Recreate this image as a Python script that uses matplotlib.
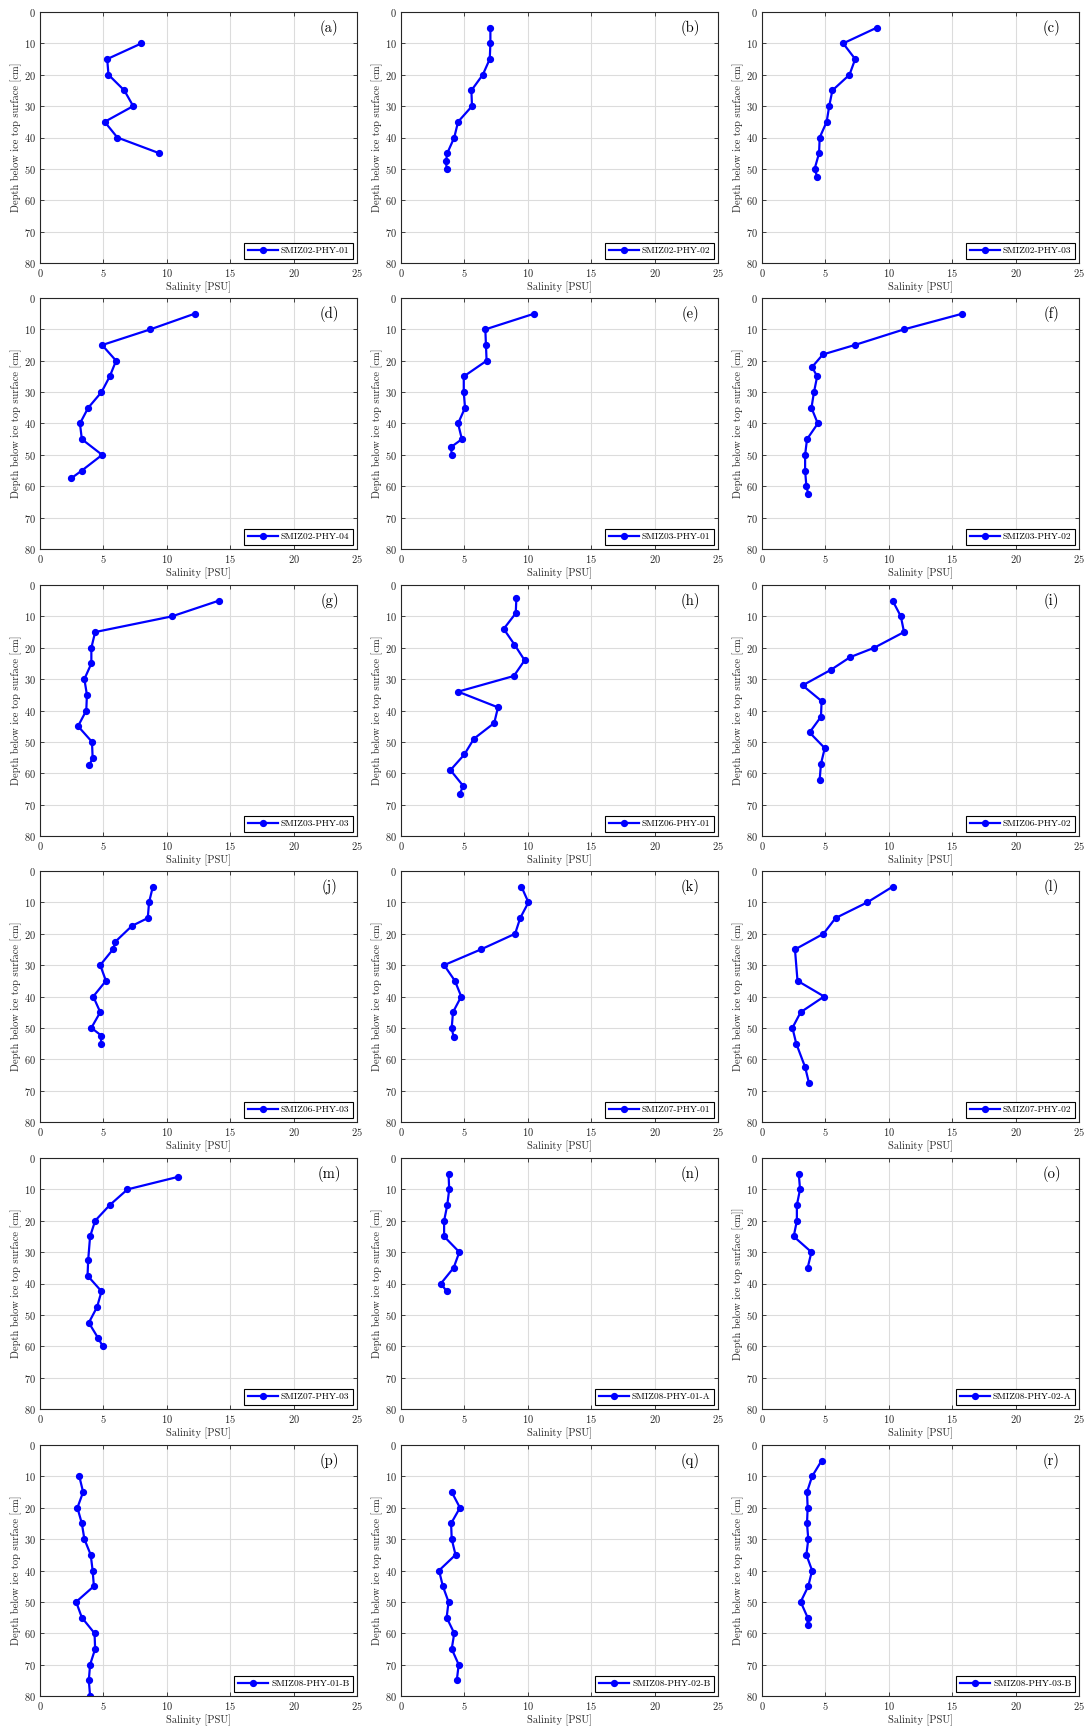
import matplotlib
matplotlib.use("Agg")
import matplotlib.pyplot as plt

plt.rcParams['font.family'] = ['cmr10', 'DejaVu Serif']
plt.rcParams['axes.formatter.use_mathtext'] = True
plt.rcParams['mathtext.fontset'] = 'cm'

# Perfiles de salinidad por nucleo (profundidad en cm, salinidad en PSU)
letras = ['a', 'b', 'c', 'd', 'e', 'f', 'g', 'h', 'i',
          'j', 'k', 'l', 'm', 'n', 'o', 'p', 'q', 'r']

nombres = ['SMIZ02-PHY-01', 'SMIZ02-PHY-02', 'SMIZ02-PHY-03',
           'SMIZ02-PHY-04', 'SMIZ03-PHY-01', 'SMIZ03-PHY-02',
           'SMIZ03-PHY-03', 'SMIZ06-PHY-01', 'SMIZ06-PHY-02',
           'SMIZ06-PHY-03', 'SMIZ07-PHY-01', 'SMIZ07-PHY-02',
           'SMIZ07-PHY-03', 'SMIZ08-PHY-01-A', 'SMIZ08-PHY-02-A',
           'SMIZ08-PHY-01-B', 'SMIZ08-PHY-02-B', 'SMIZ08-PHY-03-B']

prof_a = [10, 15, 20, 25, 30, 35, 40, 45]
sal_a = [8.0, 5.3, 5.4, 6.65, 7.35, 5.1, 6.1, 9.4]

prof_b = [5, 10, 15, 20, 25, 30, 35, 40, 45, 47.5, 50]
sal_b = [7.05, 7.05, 7.0, 6.45, 5.55, 5.6, 4.5, 4.2, 3.65, 3.55, 3.6]

prof_c = [5, 10, 15, 20, 25, 30, 35, 40, 45, 50, 52.5]
sal_c = [9.05, 6.4, 7.35, 6.9, 5.55, 5.3, 5.1, 4.55, 4.5, 4.15, 4.35]

prof_d = [5, 10, 15, 20, 25, 30, 35, 40, 45, 50, 55, 57.5]
sal_d = [12.2, 8.7, 4.9, 6.0, 5.5, 4.85, 3.8, 3.15, 3.3, 4.9, 3.3, 2.45]

prof_e = [5, 10, 15, 20, 25, 30, 35, 40, 45, 47.5, 50]
sal_e = [10.5, 6.65, 6.7, 6.75, 4.95, 4.95, 5.05, 4.5, 4.8, 3.95, 4.0]

prof_f = [5, 10, 15, 18, 22, 25, 30, 35, 40, 45, 50, 55, 60, 62.5]
sal_f = [15.8, 11.2, 7.3, 4.8, 3.95, 4.35, 4.1, 3.9, 4.4, 3.55, 3.4, 3.4, 3.5, 3.65]

prof_g = [5, 10, 15, 20, 25, 30, 35, 40, 45, 50, 55, 57.5]
sal_g = [14.1, 10.4, 4.35, 4.05, 4.05, 3.5, 3.7, 3.65, 3.0, 4.1, 4.15, 3.9]

prof_h = [4, 9, 14, 19, 24, 29, 34, 39, 44, 49, 54, 59, 64, 66.5]
sal_h = [9.1, 9.05, 8.1, 8.95, 9.75, 8.9, 4.5, 7.65, 7.35, 5.75, 5.0, 3.9, 4.9, 4.65]

prof_i = [5, 10, 15, 20, 23, 27, 32, 37, 42, 47, 52, 57, 62]
sal_i = [10.3, 10.95, 11.2, 8.85, 6.95, 5.45, 3.2, 4.7, 4.65, 3.75, 4.95, 4.65, 4.55]

prof_j = [5, 10, 15, 17.5, 22.5, 25, 30, 35, 40, 45, 50, 52.5, 55]
sal_j = [8.9, 8.6, 8.5, 7.25, 5.95, 5.75, 4.75, 5.2, 4.2, 4.75, 4.05, 4.85, 4.8]

prof_k = [5, 10, 15, 20, 25, 30, 35, 40, 45, 50, 53]
sal_k = [9.5, 10.05, 9.4, 9.0, 6.3, 3.4, 4.25, 4.75, 4.1, 4.0, 4.15]

prof_l = [5, 10, 15, 20, 25, 35, 40, 45, 50, 55, 62.5, 67.5]
sal_l = [10.3, 8.3, 5.8, 4.85, 2.6, 2.8, 4.9, 3.05, 2.4, 2.7, 3.4, 3.7]

prof_m = [6, 10, 15, 20, 25, 32.5, 37.5, 42.5, 47.5, 52.5, 57.5, 60]
sal_m = [10.9, 6.9, 5.5, 4.35, 3.95, 3.8, 3.75, 4.85, 4.5, 3.85, 4.6, 4.95]

prof_n = [5, 10, 15, 20, 25, 30, 35, 40, 42.5]
sal_n = [3.75, 3.8, 3.65, 3.4, 3.4, 4.6, 4.15, 3.15, 3.6]

prof_o = [5, 10, 15, 20, 25, 30, 35]
sal_o = [2.9, 3.0, 2.75, 2.75, 2.5, 3.9, 3.6]

prof_p = [10, 15, 20, 25, 30, 35, 40, 45, 50, 55, 60, 65, 70, 75, 80]
sal_p = [3.1, 3.4, 2.95, 3.3, 3.5, 4.0, 4.15, 4.25, 2.85, 3.3, 4.3, 4.35, 3.95, 3.85, 3.95]

prof_q = [15, 20, 25, 30, 35, 40, 45, 50, 55, 60, 65, 70, 75]
sal_q = [4.0, 4.65, 3.95, 4.0, 4.3, 3.0, 3.3, 3.75, 3.6, 4.2, 4.0, 4.55, 4.4]

prof_r = [5, 10, 15, 20, 25, 30, 35, 40, 45, 50, 55, 57.5]
sal_r = [4.7, 3.95, 3.55, 3.6, 3.55, 3.65, 3.5, 3.95, 3.65, 3.05, 3.6, 3.6]

profundidades = [prof_a, prof_b, prof_c, prof_d, prof_e, prof_f,
                 prof_g, prof_h, prof_i, prof_j, prof_k, prof_l,
                 prof_m, prof_n, prof_o, prof_p, prof_q, prof_r]
salinidades = [sal_a, sal_b, sal_c, sal_d, sal_e, sal_f,
               sal_g, sal_h, sal_i, sal_j, sal_k, sal_l,
               sal_m, sal_n, sal_o, sal_p, sal_q, sal_r]

xticks = [0, 5, 10, 15, 20, 25]
yticks = [0, 10, 20, 30, 40, 50, 60, 70, 80]

W, H = 1091, 1729
fig = plt.figure(figsize=(W / 100, H / 100), dpi=100)

# posiciones en pixeles de cada columna y fila
izq = [40, 401, 762]
arriba = [12, 298, 585, 871, 1158, 1445]
ancho, alto = 317, 251

gris = '#262626'

for k in range(18):
    fila, col = divmod(k, 3)
    ax = fig.add_axes([izq[col] / W, 1 - (arriba[fila] + alto) / H, ancho / W, alto / H])
    ax.plot(salinidades[k], profundidades[k], '-o', color='blue', lw=1.6,
            ms=4.2, label=nombres[k])
    ax.set_xlim(0, 25)
    ax.set_ylim(80, 0)
    ax.set_xticks(xticks)
    ax.set_yticks(yticks)
    ax.grid(True, color='#dcdcdc', lw=0.8)
    ax.set_axisbelow(True)
    ax.tick_params(direction='in', top=True, right=True, length=3,
                   width=0.6, labelsize=7.5, colors=gris, pad=3)
    for s in ax.spines.values():
        s.set_color(gris)
        s.set_linewidth(0.8)
    ax.set_xlabel('Salinity [PSU]', fontsize=7.5, color=gris, labelpad=2)
    ylab = 'Depth below ice top surface [cm]'
    if letras[k] == 'o':
        ylab = 'Depth below ice top surface [cm]]'
    ax.set_ylabel(ylab, fontsize=7.5, color=gris, labelpad=1.5)
    # letra del panel arriba a la derecha
    ax.text(0.913, 0.935, '(' + letras[k] + ')', transform=ax.transAxes,
            ha='center', va='center', fontsize=10.5, color='black')
    leg = ax.legend(loc='lower right', fontsize=6.8, fancybox=False,
                    framealpha=1, edgecolor='black', handlelength=3.2,
                    borderpad=0.4, handletextpad=0.3,
                    borderaxespad=0.4)
    leg.get_frame().set_linewidth(0.8)

fig.savefig('out.png', dpi=100)
